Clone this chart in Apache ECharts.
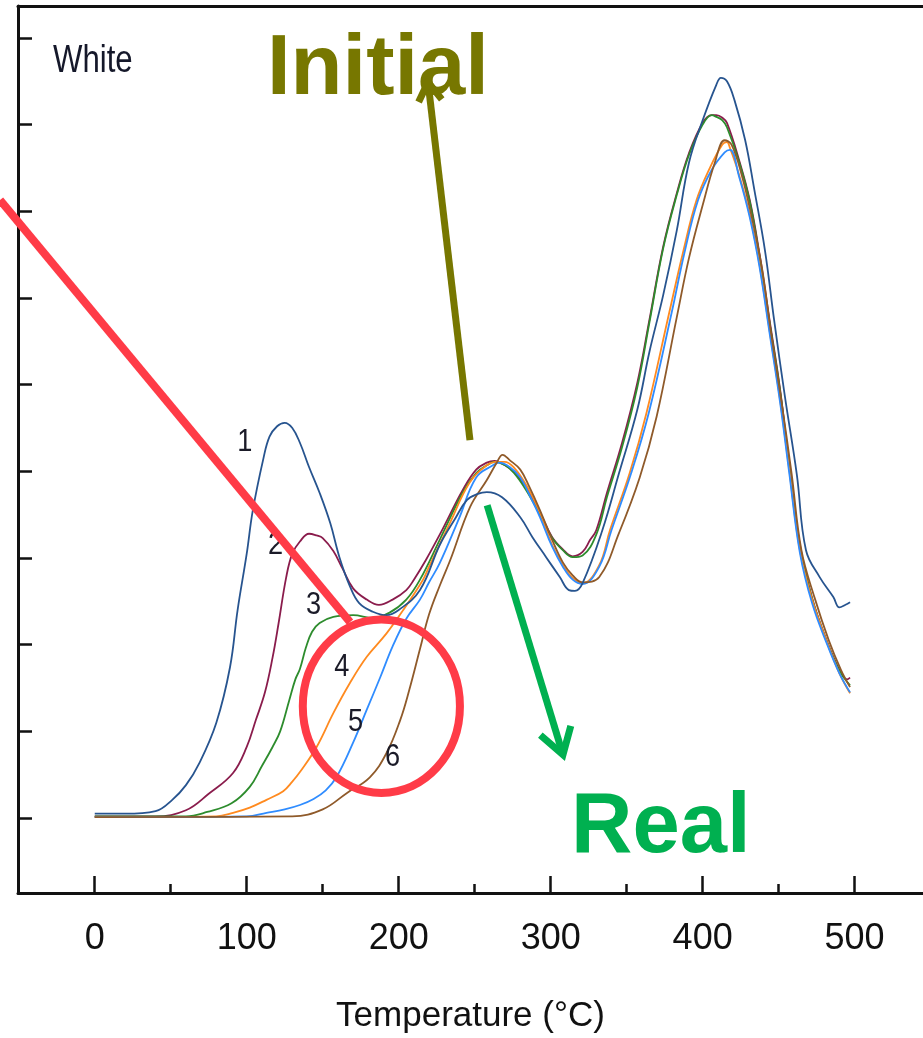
<!DOCTYPE html>
<html>
<head>
<meta charset="utf-8">
<script src="https://cdn.jsdelivr.net/npm/echarts@6/dist/echarts.min.js"></script>
<style>
html, body { margin: 0; padding: 0; background: #ffffff; }
#chart { width: 923px; height: 1038px; }
</style>
</head>
<body>
<div id="chart"></div>
<script>
// Fonts
const SANS = "'Liberation Sans',Arial,sans-serif";

// Axis ticks
const xTicks = [0, 100, 200, 300, 400, 500];
const xMinorTicks = [50, 150, 250, 350, 450];
const yTicks = [0, 1, 2, 3, 4, 5, 6, 7, 8, 9];

// Thermal desorption curves: [temperature (°C), signal (a.u.)]
const curve1 = [[0,0.05],[20,0.05],[40,0.08],[51,0.21],[60,0.38],[69,0.64],[80,1.10],[89,1.74],[94,2.40],[100,3.05],[104,3.55],[111,4.15],[115,4.40],[120,4.52],[125,4.56],[130,4.50],[135,4.33],[141,4.05],[148,3.75],[155,3.40],[161,3.01],[168,2.67],[174,2.48],[183,2.38],[192,2.34],[200,2.40],[214,2.63],[227,3.15],[237,3.45],[245,3.67],[252,3.74],[258,3.76],[268,3.70],[280,3.47],[288,3.24],[297,3.01],[306,2.78],[312,2.63],[316,2.62],[321,2.71],[334,3.32],[345,3.98],[357,4.71],[365,5.38],[374,6.03],[383,6.78],[391,7.56],[400,8.05],[409,8.46],[412,8.54],[416,8.50],[421,8.28],[428,7.82],[434,7.25],[441,6.55],[447,5.75],[454,4.88],[462,3.96],[468,3.09],[477,2.78],[486,2.55],[490,2.43],[494,2.46],[497,2.49]];
const curve2 = [[0,0.02],[40,0.02],[60,0.09],[75,0.28],[91,0.52],[100,0.82],[106,1.13],[112,1.45],[117,1.85],[121,2.25],[126,2.78],[130,3.05],[135,3.19],[141,3.28],[146,3.26],[150,3.23],[157,3.08],[163,2.88],[170,2.65],[179,2.52],[187,2.46],[196,2.52],[205,2.63],[210,2.75],[218,2.98],[227,3.27],[232,3.44],[242,3.78],[251,4.02],[258,4.10],[263,4.12],[270,4.07],[276,3.99],[284,3.81],[293,3.52],[301,3.24],[308,3.10],[314.5,3.02],[321,3.07],[326,3.21],[330,3.32],[337,3.75],[347,4.33],[357,5.02],[365,5.75],[374,6.59],[383,7.21],[391,7.67],[400,8.02],[406,8.11],[409,8.11],[413,8.08],[416,8.02],[424,7.59],[431,7.13],[437.5,6.50],[444,5.75],[451,4.94],[457,4.07],[464,3.15],[472,2.54],[482,2.03],[490,1.71],[495,1.60],[497,1.62]];
const curve3 = [[0,0.02],[60,0.02],[74,0.07],[90,0.17],[102,0.36],[110,0.60],[117,0.82],[122,1.00],[128,1.36],[132,1.60],[135,1.72],[139,1.97],[143,2.15],[148,2.25],[157,2.32],[170,2.34],[183,2.31],[194,2.37],[205,2.52],[214,2.75],[227,3.21],[242,3.75],[251,3.98],[258,4.07],[263,4.11],[270,4.07],[276,3.98],[284,3.78],[293,3.50],[301,3.23],[308,3.09],[314.5,3.01],[321,3.03],[330,3.27],[337,3.70],[347,4.28],[357,4.97],[365,5.72],[374,6.57],[383,7.19],[391,7.65],[400,8.00],[406,8.11],[409,8.09],[413,8.05],[416,7.97],[424,7.57],[431,7.11],[437.5,6.47],[444,5.72],[451,4.92],[457,4.05],[464,3.13],[472,2.53],[482,2.02],[490,1.70],[497,1.53]];
const curve4 = [[0,0.01],[80,0.02],[91,0.06],[102,0.12],[113,0.21],[124,0.31],[130,0.42],[135,0.53],[146,0.82],[157,1.21],[168,1.56],[179,1.86],[192,2.13],[203,2.40],[216,2.75],[220,2.90],[233.6,3.40],[246.7,3.87],[258,4.07],[264.5,4.11],[269.7,4.11],[276,4.04],[284,3.84],[293,3.52],[301,3.15],[308,2.92],[314.5,2.77],[321,2.71],[332,2.92],[339,3.32],[352,3.98],[363,4.67],[378,5.83],[387,6.52],[396,7.13],[405,7.51],[413,7.77],[416,7.80],[418,7.73],[424,7.42],[431,6.96],[437.5,6.38],[444,5.63],[451,4.82],[457,4.02],[464,3.09],[472,2.52],[482,2.02],[490,1.67],[497,1.44]];
const curve5 = [[0,0.01],[100,0.02],[113,0.06],[125,0.10],[135,0.15],[144,0.22],[152,0.32],[159,0.47],[170,0.87],[179,1.25],[188,1.63],[196,1.98],[205,2.30],[214,2.52],[220,2.72],[227,2.94],[240,3.47],[251,3.93],[262,4.07],[266,4.10],[273,4.05],[280,3.93],[286,3.73],[293,3.47],[301,3.13],[308,2.90],[314.5,2.75],[321,2.70],[332,2.90],[340,3.32],[353,3.98],[364.5,4.67],[379.6,5.83],[388,6.52],[397,7.13],[406,7.48],[414.5,7.68],[418,7.71],[424,7.40],[431,6.93],[437.5,6.35],[444,5.60],[451,4.79],[457,3.98],[464,3.06],[472,2.48],[482,2.00],[490,1.67],[497,1.45]];
const curve6 = [[0,0.01],[130,0.02],[150,0.10],[166,0.29],[181,0.47],[192,0.75],[201,1.13],[207,1.48],[214,1.95],[220,2.35],[227,2.68],[234,2.98],[247,3.59],[258,3.90],[264.5,4.10],[268.4,4.19],[273,4.13],[280,4.02],[286,3.82],[293,3.55],[301,3.21],[308,2.95],[314.5,2.80],[321,2.72],[332,2.78],[345,3.29],[358.6,3.93],[369.7,4.63],[383,5.78],[391,6.46],[400,7.07],[408,7.56],[414.5,7.82],[419,7.77],[425.7,7.42],[432,6.96],[439,6.35],[445,5.60],[452,4.79],[458.5,3.98],[465,3.09],[473.7,2.54],[483,2.05],[491,1.71],[497,1.51]];

const curves = [curve1, curve2, curve3, curve4, curve5, curve6];
const curveNames = ['1', '2', '3', '4', '5', '6'];
const curveColors = ['#27548f', '#8a1c4c', '#2d8c2d', '#ff8a1f', '#2f8cff', '#8f5a2a'];

// Curve number labels: [temperature, signal, text]
const curveLabelPos = [[98.7,4.34,'1'],[119,3.15,'2'],[144,2.46,'3'],[162.5,1.74,'4'],[171.7,1.11,'5'],[196,0.70,'6']];

// Annotation anchors in data coordinates
const initialArrow = { tail: [246.9, 4.36], tip: [219.3, 8.49] };
const realArrow = { tail: [258.2, 3.61], tip: [308.1, 0.73] };
const redLine = { from: [-62.3, 7.13], to: [168.0, 2.26] };
const redRing = { center: [188.6, 1.29], rx: 51.7, ry: 1.0 };

const chart = echarts.init(document.getElementById('chart'), null, { renderer: 'canvas' });

const axisColor = '#111111';
const series = curves.map((c, i) => ({
  name: curveNames[i],
  type: 'line',
  data: c,
  showSymbol: false,
  smooth: 0.4,
  lineStyle: { color: curveColors[i], width: 1.8 },
  z: 2 + (i === 0 ? 6 : i)
}));

chart.setOption({
  animation: false,
  backgroundColor: '#ffffff',
  grid: { left: 18, right: 0, top: 6, bottom: 145, containLabel: false, outerBoundsMode: 'none' },
  xAxis: [
    {
      type: 'value', min: -50.5, max: 545, position: 'bottom',
      axisLine: { show: true, onZero: false, lineStyle: { color: axisColor, width: 3 } },
      axisTick: { show: true, inside: true, length: 17, customValues: xTicks, lineStyle: { color: axisColor, width: 2.5 } },
      axisLabel: { show: true, customValues: xTicks, margin: 28, fontFamily: SANS, fontSize: 36, color: axisColor },
      splitLine: { show: false },
      name: 'Temperature (\u00B0C)', nameLocation: 'middle', nameGap: 106,
      nameTextStyle: { fontFamily: SANS, fontSize: 35, color: axisColor }
    },
    {
      type: 'value', min: -50.5, max: 545, position: 'bottom',
      axisLine: { show: false, onZero: false },
      axisTick: { show: true, inside: true, length: 9, customValues: xMinorTicks, lineStyle: { color: axisColor, width: 2.5 } },
      axisLabel: { show: false },
      splitLine: { show: false }
    },
    {
      type: 'value', min: -50.5, max: 545, position: 'top',
      axisLine: { show: true, onZero: false, lineStyle: { color: axisColor, width: 3 } },
      axisTick: { show: false },
      axisLabel: { show: false },
      splitLine: { show: false }
    }
  ],
  yAxis: {
    type: 'value', min: -0.865, max: 9.369,
    axisLine: { show: true, onZero: false, lineStyle: { color: axisColor, width: 3 } },
    axisTick: { show: true, inside: true, length: 14, customValues: yTicks, lineStyle: { color: axisColor, width: 2.5 } },
    axisLabel: { show: false },
    splitLine: { show: false }
  },
  series: series
});

// Annotations placed through the axis scales
function toPx(p) {
  return chart.convertToPixel({ xAxisIndex: 0, yAxisIndex: 0 }, p);
}

function arrow(spec, color, width, headLen, headAngle) {
  const a = toPx(spec.tail), b = toPx(spec.tip);
  const dx = a[0] - b[0], dy = a[1] - b[1];
  const L = Math.hypot(dx, dy);
  const ux = dx / L, uy = dy / L;
  const t = headAngle * Math.PI / 180;
  const c = Math.cos(t), s = Math.sin(t);
  const w1 = [b[0] + headLen * (ux * c - uy * s), b[1] + headLen * (ux * s + uy * c)];
  const w2 = [b[0] + headLen * (ux * c + uy * s), b[1] + headLen * (-ux * s + uy * c)];
  return [
    { type: 'line', z: 100, silent: true,
      shape: { x1: a[0], y1: a[1], x2: b[0] + ux * 2, y2: b[1] + uy * 2 },
      style: { stroke: color, lineWidth: width } },
    { type: 'polyline', z: 100, silent: true,
      shape: { points: [w1, b, w2] },
      style: { stroke: color, lineWidth: width, fill: null, lineJoin: 'miter' } }
  ];
}

const lf = toPx(redLine.from), lt = toPx(redLine.to);
const rc = toPx(redRing.center);
const rEdge = toPx([redRing.center[0] + redRing.rx, redRing.center[1] + redRing.ry]);

// Curve numbers, in a condensed look
const numberTexts = curveLabelPos.map(p => {
  const q = toPx([p[0], p[1]]);
  return { type: 'text', x: q[0], y: q[1], scaleX: 0.85, z: 90, silent: true,
    style: { text: p[2], x: 0, y: 0, font: '32px ' + SANS, fill: '#1b1b28', align: 'center', verticalAlign: 'middle' } };
});

const graphics = [
  { type: 'text', x: 53, y: 62, scaleX: 0.82, z: 100, silent: true,
    style: { text: 'White', x: 0, y: 0, font: '38px ' + SANS, fill: '#15182a', align: 'left', verticalAlign: 'middle' } },
  { type: 'text', z: 99, silent: true,
    style: { text: 'Initial', x: 267, y: 71, font: 'bold 85px ' + SANS, fill: '#777700', align: 'left', verticalAlign: 'middle' } },
  { type: 'text', z: 99, silent: true,
    style: { text: 'Real', x: 571, y: 829, font: 'bold 85px ' + SANS, fill: '#00b050', align: 'left', verticalAlign: 'middle' } },
  { type: 'line', z: 100, silent: true,
    shape: { x1: lf[0], y1: lf[1], x2: lt[0], y2: lt[1] },
    style: { stroke: '#ff3b47', lineWidth: 8 } },
  { type: 'ellipse', z: 100, silent: true,
    shape: { cx: rc[0], cy: rc[1], rx: Math.abs(rEdge[0] - rc[0]), ry: Math.abs(rEdge[1] - rc[1]) },
    style: { stroke: '#ff3b47', lineWidth: 8, fill: null } }
].concat(numberTexts, arrow(initialArrow, '#777700', 7, 22, 32), arrow(realArrow, '#00b050', 7, 30, 32));

chart.setOption({ graphic: graphics });
</script>
</body>
</html>
